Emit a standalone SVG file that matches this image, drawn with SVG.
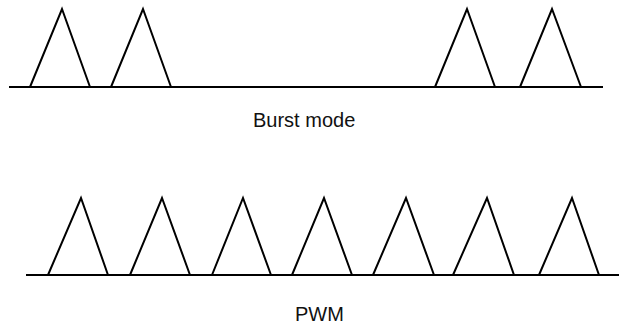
<svg xmlns="http://www.w3.org/2000/svg" width="620" height="326" viewBox="0 0 620 326">
<style>
.ln{fill:none;stroke:#000;stroke-width:2;stroke-linejoin:miter}
.t{font-family:"Liberation Sans",Arial,sans-serif;font-size:20px;fill:#111}
</style>
<rect width="620" height="326" fill="#fff"/>
<g id="burst">
<line class="ln" x1="9" y1="87" x2="603" y2="87"/>
<polyline class="ln" points="30,87 62,9 90,87"/>
<polyline class="ln" points="111,87 143,9 171,87"/>
<polyline class="ln" points="435,87 467,9 495,87"/>
<polyline class="ln" points="520,87 552,9 581,87"/>
<text class="t" x="253" y="127">Burst mode</text>
</g>
<g id="pwm">
<line class="ln" x1="26" y1="275" x2="619" y2="275"/>
<polyline class="ln" points="48,275 81,198 108,275"/>
<polyline class="ln" points="130,275 162,198 190,275"/>
<polyline class="ln" points="212,275 243,198 271,275"/>
<polyline class="ln" points="292,275 324,198 352,275"/>
<polyline class="ln" points="373,275 406,198 434,275"/>
<polyline class="ln" points="453,275 487,198 514,275"/>
<polyline class="ln" points="539,275 572,198 599,275"/>
<text class="t" x="295" y="321">PWM</text>
</g>
</svg>
